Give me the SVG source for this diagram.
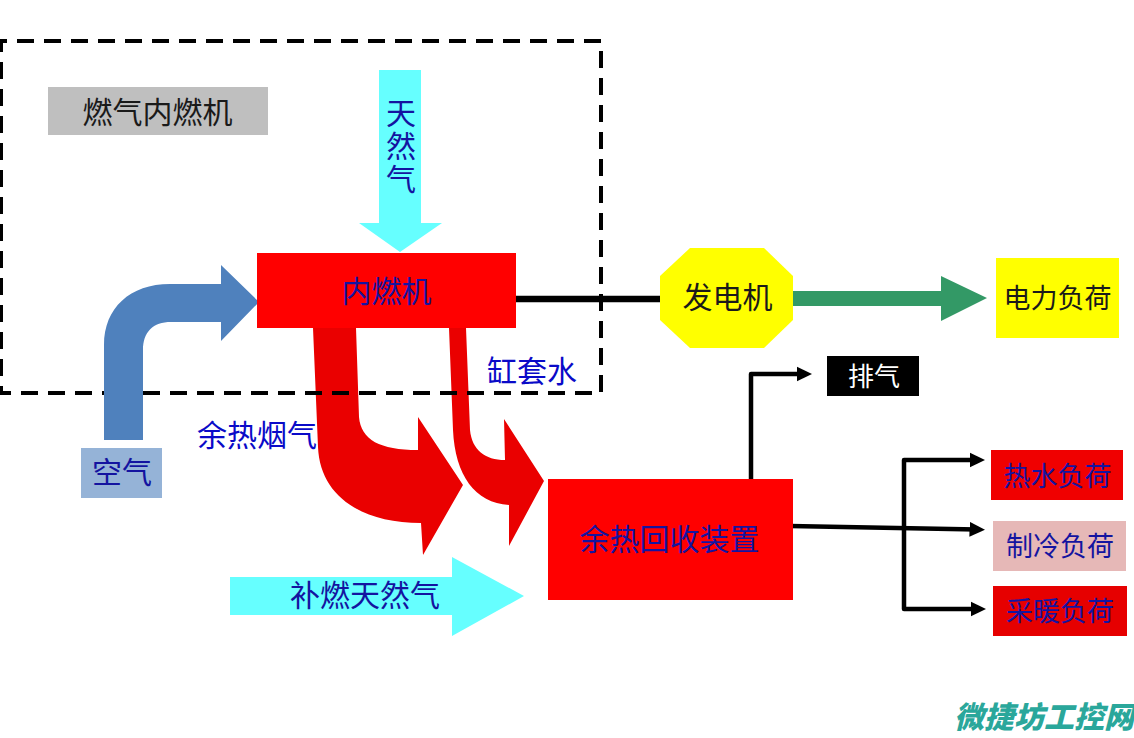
<svg xmlns="http://www.w3.org/2000/svg" width="1134" height="738" viewBox="0 0 1134 738">
<style>
text{font-family:"Noto Sans CJK SC","Noto Sans",sans-serif;text-anchor:middle;dominant-baseline:central}
.t30{font-size:30px}.t27{font-size:27px}
.navy{fill:#1414a0}.blue{fill:#0a0ac8}.ink{fill:#1a1a1a}
.red{fill:#ea0000}
.line{fill:none;stroke:#000;stroke-width:4.5;stroke-linejoin:round}
</style>
<defs>
<marker id="ah" markerUnits="userSpaceOnUse" markerWidth="16" markerHeight="18" refX="7.500" refY="9" orient="auto"><path d="M0 1.500L15.500 9L0 16.500Z" fill="#000"/></marker>
</defs>
<rect width="1134" height="738" fill="#fff"/>
<g id="connectors">
<path id="air-flow" fill="#4f81bd" d="M104 440V345C104 308 130 284 170 284H221V265L259 302L221 341V322H171C153 322 143 332 143 350V440Z"/>
<path id="exhaust-heat" class="red" d="M313 328L318 447C320 495 360 523 421 523L423 555L463 485L418 417V450C380 450 361 440 359 417L356 328Z"/>
<path id="jacket-water" class="red" d="M449 328L453 430C455 475 475 503 509 505V546L544 481L504 419L505 460C485 460 472 450 470 430L466 328Z"/>
<path id="gas-in" fill="#66ffff" d="M379 70H421V223H442L400 252L359 223H379Z"/>
<path id="gas-supp" fill="#66ffff" d="M230 577H452V557L524 596L452 636V615H230Z"/>
<path id="shaft" d="M516 299H660" stroke="#000" stroke-width="6.500" fill="none"/>
<path id="power" fill="#339966" d="M793 291H941V276L987 298L941 321V306H793Z"/>
<path id="exhaust" class="line" d="M751 479V374H804" marker-end="url(#ah)"/>
<path id="cool" class="line" d="M790 526L977 529.500" marker-end="url(#ah)"/>
<path id="hot" class="line" d="M904 535V460H977" marker-end="url(#ah)"/>
<path id="heat" class="line" d="M904 535V609H978" marker-end="url(#ah)"/>
</g>
<g id="boundary"><path d="M143 393H601V41H1V393H104" fill="none" stroke="#000" stroke-width="4" stroke-dasharray="17 10"/></g>
<g id="title"><rect x="48" y="87" width="220" height="48" fill="#bfbfbf"/><text class="t30 ink" x="157.500" y="110">燃气内燃机</text></g>
<g id="engine"><rect x="257" y="253" width="259" height="75" fill="#ff0000"/><text class="t30 navy" x="386.500" y="289">内燃机</text></g>
<g id="generator"><path d="M690 248H764L793 276V320L764 348H690L660 320V276Z" fill="#ffff00"/><text class="t30 ink" x="727.500" y="295">发电机</text></g>
<g id="electric-load"><rect x="996" y="258" width="123" height="80" fill="#ffff00"/><text class="t27 ink" x="1057.500" y="296">电力负荷</text></g>
<g id="gas-label"><text class="t30 navy" x="401" y="147" style="writing-mode:vertical-rl;letter-spacing:3px">天然气</text></g>
<g id="air"><rect x="81" y="448" width="81" height="50" fill="#95b3d7"/><text class="t30 navy" x="122" y="470">空气</text></g>
<g id="jacket-label"><text class="t30 blue" x="532" y="369">缸套水</text></g>
<g id="exhaust-label"><text class="t30 blue" x="257" y="433">余热烟气</text></g>
<g id="supp-label"><text class="t30 navy" x="365" y="593">补燃天然气</text></g>
<g id="recovery"><rect x="548" y="479" width="245" height="121" fill="#ff0000"/><text class="t30 navy" x="669.500" y="537">余热回收装置</text></g>
<g id="exhaust-box"><rect x="827" y="356" width="92" height="40" fill="#000"/><text x="874" y="374" font-size="26" fill="#fff">排气</text></g>
<g id="hot-load"><rect x="991" y="450" width="132" height="50" fill="#f00000"/><text class="t27 navy" x="1057.500" y="474">热水负荷</text></g>
<g id="cool-load"><rect x="993" y="521" width="133" height="50" fill="#e6b8b7"/><text class="t27 navy" x="1060" y="544">制冷负荷</text></g>
<g id="heat-load"><rect x="993" y="586" width="134" height="50" fill="#e60000"/><text class="t27 navy" x="1060" y="609">采暖负荷</text></g>
<g id="watermark"><text x="1044" y="715" font-size="30" font-weight="900" font-style="italic" fill="#2aa79b">微捷坊工控网</text></g>
</svg>
